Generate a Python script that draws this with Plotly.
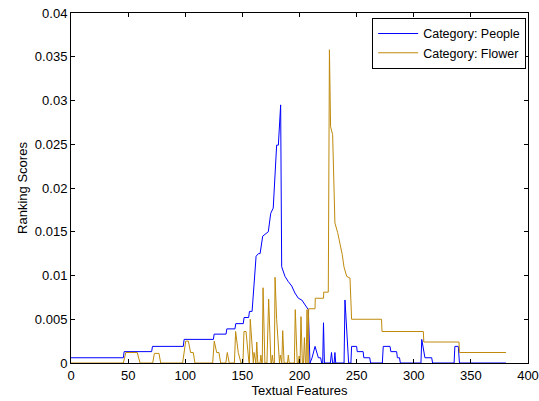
import plotly.graph_objects as go

# Vertices of the "Category: People" curve (feature index, ranking score)
people_x = [0, 45.8, 46.5, 70.6, 71.3, 98.3, 99, 124.6, 125.3, 135.7, 136.4, 143.5, 144.2,
            150.8, 151.5, 155.5, 156.2, 158.5, 162, 164, 165.5, 167.8, 172.7, 174.8, 177,
            178.6, 180, 181.5, 183.5, 184.4, 185.8, 187.3, 190.2, 193.2, 196, 199, 202,
            204.8, 207.7, 209.2, 211, 213.6, 216.5, 218.5, 219.4, 220.3, 221, 221.8, 227,
            228, 229, 230.3, 231, 231.7, 239, 239.8, 242, 243, 245, 245.6, 250, 250.5,
            255.7, 256.3, 261.5, 262.2, 272.5, 273.3, 279.2, 280, 285, 285.7, 287.5, 288.3,
            306.3, 307, 309.8, 315.7, 316.5, 335.3, 336, 339, 340, 380.7]
people_y = [0.0006, 0.0006, 0.0013, 0.0013, 0.0019, 0.0019, 0.0027, 0.0027, 0.0033, 0.0033,
            0.0039, 0.0039, 0.0045, 0.0045, 0.0052, 0.0052, 0.0059, 0.0059, 0.0122, 0.0125,
            0.0125, 0.0145, 0.0150, 0.0171, 0.0177, 0.0210, 0.0249, 0.0249, 0.0295, 0.0110,
            0.0105, 0.0099, 0.0093, 0.0088, 0.0080, 0.0074, 0.0072, 0.0067, 0.0061, 0.0,
            0.0006, 0.0019, 0.0006, 0.0006, 0.0, 0.0, 0.0046, 0.0, 0.0, 0.0012, 0.0, 0.0,
            0.0012, 0.0, 0.0, 0.0072, 0.0020, 0.0, 0.0, 0.0019, 0.0019, 0.0013, 0.0013,
            0.0006, 0.0006, 0.0, 0.0, 0.0019, 0.0019, 0.0013, 0.0013, 0.0006, 0.0006, 0.0,
            0.0, 0.0027, 0.0006, 0.0006, 0.0, 0.0, 0.0019, 0.0019, 0.0, 0.0]

# Vertices of the "Category: Flower" curve
flower_x = [0, 45.8, 48, 58, 60.4, 71.5, 73, 77, 78.5, 97.7, 100.4, 102.7, 104.7, 107, 108.5,
            124, 125.4, 127.5, 129.5, 131, 135.5, 136.8, 138.5, 143, 144.1, 146.4, 148.8,
            150.5, 151.4, 153.2, 155.8, 156.2, 156.9, 159, 159.6, 160.2, 161.2, 161.8,
            162.6, 163.5, 165.5, 166.2, 167, 167.4, 168.1, 169.7, 171.5, 173, 175, 175.5,
            176.2, 177, 178, 178.6, 180, 182, 182.5, 183.2, 184, 184.5, 185.3, 186.5, 189.5,
            190.2, 191, 195.5, 196.3, 198, 199, 199.7, 200.3, 200.5, 201.3, 202.5, 203.5,
            204.3, 205.2, 205.8, 206.6, 207.3, 207.5, 208, 213.6, 213.8, 221, 221.2, 225.2,
            226.2, 227.2, 229, 231, 233.4, 235.4, 237.4, 238.9, 241.3, 244.2, 245.6, 271.8,
            272.2, 308.4, 308.8, 339.6, 340, 380.7]
flower_y = [0.0, 0.0, 0.0012, 0.0012, 0.0, 0.0, 0.0011, 0.0011, 0.0, 0.0, 0.0025, 0.0025,
            0.0012, 0.0012, 0.0, 0.0, 0.0025, 0.0012, 0.0012, 0.0, 0.0, 0.0012, 0.0, 0.0,
            0.0036, 0.0012, 0.0, 0.0, 0.0036, 0.0036, 0.0, 0.0, 0.0050, 0.0, 0.0, 0.0012,
            0.0, 0.0, 0.0024, 0.0, 0.0, 0.0009, 0.0, 0.0, 0.0086, 0.0, 0.0, 0.0073, 0.0,
            0.0, 0.0009, 0.0, 0.0, 0.0098, 0.0050, 0.0, 0.0, 0.0009, 0.0, 0.0, 0.0037, 0.0,
            0.0, 0.0009, 0.0, 0.0, 0.0061, 0.0, 0.0, 0.0008, 0.0, 0.0, 0.0053, 0.0, 0.0,
            0.0029, 0.0, 0.0, 0.0061, 0.0, 0.0, 0.0062, 0.0062, 0.0074, 0.0074, 0.0081,
            0.0081, 0.0358, 0.0270, 0.0261, 0.0160, 0.0149, 0.0137, 0.0124, 0.0110, 0.0099,
            0.0097, 0.0050, 0.0050, 0.0036, 0.0036, 0.0024, 0.0024, 0.0012, 0.0012]

x_ticks = [0, 50, 100, 150, 200, 250, 300, 350, 400]
y_ticks = [0, 0.005, 0.01, 0.015, 0.02, 0.025, 0.03, 0.035, 0.04]
y_tick_labels = ["0", "0.005", "0.01", "0.015", "0.02", "0.025", "0.03", "0.035", "0.04"]

FONT = "Liberation Sans, Arial, Helvetica, sans-serif"

fig = go.Figure()
fig.add_trace(go.Scatter(x=people_x, y=people_y, mode="lines", name="Category: People",
                         line=dict(color="#0000FF", width=1)))
fig.add_trace(go.Scatter(x=flower_x, y=flower_y, mode="lines", name="Category: Flower",
                         line=dict(color="#BF8A0C", width=1)))

axis_common = dict(showgrid=False, zeroline=False, showline=True, linecolor="black",
                   linewidth=1, mirror="ticks", ticks="inside", ticklen=4,
                   tickcolor="black", automargin=False,
                   tickfont=dict(family=FONT, size=13, color="black"))

fig.update_xaxes(range=[0, 400], tickvals=x_ticks, ticktext=[str(v) for v in x_ticks],
                 title=dict(text="Textual Features", font=dict(family=FONT, size=13, color="black"),
                            standoff=2),
                 **axis_common)
fig.update_yaxes(range=[0, 0.04], tickvals=y_ticks, ticktext=y_tick_labels,
                 title=dict(text="Ranking Scores", font=dict(family=FONT, size=13, color="black"),
                            standoff=4),
                 **axis_common)

fig.update_layout(
    width=539, height=401,
    margin=dict(l=71, r=11, t=13, b=38, autoexpand=False),
    paper_bgcolor="white", plot_bgcolor="white",
    font=dict(family=FONT, size=13, color="black"),
    showlegend=True,
    legend=dict(x=0.996, y=0.986, xanchor="right", yanchor="top",
                bgcolor="white", bordercolor="black", borderwidth=1,
                font=dict(family=FONT, size=12.5, color="black"),
                tracegroupgap=0, itemwidth=40),
)

fig.write_html("out.html",
               config={"displayModeBar": False},
               post_script="document.body.style.margin='0';document.body.style.padding='0';")
